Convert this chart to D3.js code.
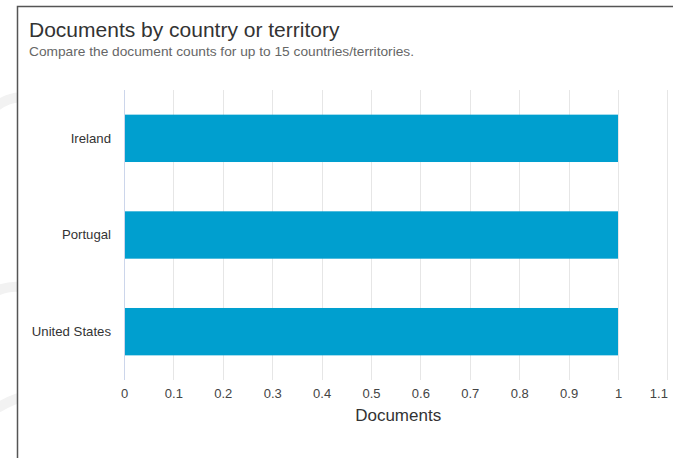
<!DOCTYPE html>
<html>
<head>
<meta charset="utf-8">
<script src="https://cdn.jsdelivr.net/npm/d3@7"></script>
<style>
  html, body { margin: 0; padding: 0; background: #fff; }
  svg { display: block; font-family: "Liberation Sans", Arial, sans-serif; }
</style>
</head>
<body>
<svg id="chart" width="673" height="458"></svg>
<script>
// Country document counts
const countries = ["Ireland", "Portugal", "United States"];
const documents = [1, 1, 1];
const xTicks = [0, 0.1, 0.2, 0.3, 0.4, 0.5, 0.6, 0.7, 0.8, 0.9, 1, 1.1];

const svg = d3.select("#chart");

// faint decorative background arcs behind the card
const bg = svg.append("g").attr("fill", "none").attr("stroke", "#f2f2f2").attr("stroke-width", 10);
bg.append("path").attr("d", "M-20,120 Q10,90 30,100");
bg.append("path").attr("d", "M-20,300 Q10,280 30,290");
bg.append("path").attr("d", "M-20,420 Q5,400 30,395");

// card
svg.append("rect")
  .attr("x", 17.5).attr("y", 6.5)
  .attr("width", 700).attr("height", 500)
  .attr("fill", "#fff")
  .attr("stroke", "#555").attr("stroke-width", 1.5);

svg.append("text")
  .attr("x", 29).attr("y", 37)
  .attr("font-size", 21).attr("fill", "#333")
  .text("Documents by country or territory");

svg.append("text")
  .attr("x", 29).attr("y", 56)
  .attr("font-size", 13.6).attr("fill", "#666")
  .attr("textLength", 385).attr("lengthAdjust", "spacingAndGlyphs")
  .text("Compare the document counts for up to 15 countries/territories.");

const x = d3.scaleLinear().domain([0, 1.1]).range([124, 667.4]);
const y = d3.scaleBand().domain(countries).range([90, 380]).paddingInner(0.51).paddingOuter(0.255);

// vertical gridlines
svg.append("g")
  .selectAll("line")
  .data(xTicks.slice(1))
  .join("line")
  .attr("x1", d => Math.round(x(d)) + 0.5).attr("x2", d => Math.round(x(d)) + 0.5)
  .attr("y1", 90).attr("y2", 380)
  .attr("stroke", "#e6e6e6").attr("stroke-width", 1);

// category axis line
svg.append("line")
  .attr("x1", x(0) + 0.5).attr("x2", x(0) + 0.5)
  .attr("y1", 90).attr("y2", 380)
  .attr("stroke", "#ccd6eb");

// bars
svg.append("g")
  .selectAll("rect")
  .data(countries)
  .join("rect")
  .attr("x", x(0) + 1)
  .attr("y", d => y(d))
  .attr("width", (d, i) => x(documents[i]) - x(0) - 1)
  .attr("height", y.bandwidth())
  .attr("fill", "#009fcf");

// category labels
const yAxis = svg.append("g")
  .attr("transform", `translate(${x(0)},0)`)
  .call(d3.axisLeft(y).tickSize(0).tickPadding(13));
yAxis.select(".domain").remove();
yAxis.selectAll("text")
  .attr("font-family", "'Liberation Sans', Arial, sans-serif")
  .attr("font-size", 13.2).attr("fill", "#333");

// value axis
const xAxis = svg.append("g")
  .attr("transform", "translate(0,380)")
  .call(d3.axisBottom(x).tickValues(xTicks).tickFormat(d3.format("~g")).tickSize(0).tickPadding(9));
xAxis.select(".domain").remove();
xAxis.selectAll("text")
  .attr("font-family", "'Liberation Sans', Arial, sans-serif")
  .attr("font-size", 13).attr("fill", "#444");
// keep the last tick label inside the plot edge
xAxis.selectAll(".tick").filter(d => d === xTicks[xTicks.length - 1])
  .select("text").attr("text-anchor", "end").attr("x", 0);

svg.append("text")
  .attr("x", x(0.555)).attr("y", 421)
  .attr("text-anchor", "middle")
  .attr("font-size", 17).attr("fill", "#333")
  .text("Documents");
</script>
</body>
</html>
